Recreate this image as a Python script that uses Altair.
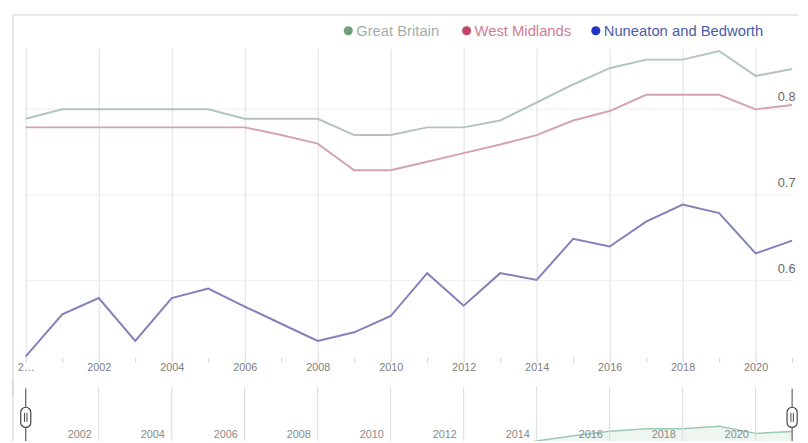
import altair as alt
import pandas as pd

# ---------------- data ----------------
years = list(range(2000, 2022))
great_britain = [0.788, 0.799, 0.799, 0.799, 0.799, 0.799, 0.788, 0.788, 0.788, 0.769, 0.769,
                 0.778, 0.778, 0.786, 0.807, 0.828, 0.847, 0.857, 0.857, 0.867, 0.838, 0.846]
west_midlands = [0.778, 0.778, 0.778, 0.778, 0.778, 0.778, 0.778, 0.769, 0.759, 0.728, 0.728,
                 0.738, 0.748, 0.758, 0.769, 0.786, 0.797, 0.816, 0.816, 0.816, 0.799, 0.804]
nuneaton = [0.511, 0.560, 0.579, 0.529, 0.579, 0.590, 0.569, 0.549, 0.529, 0.539, 0.558,
            0.608, 0.570, 0.608, 0.600, 0.648, 0.639, 0.668, 0.688, 0.678, 0.631, 0.646]
series_names = ["Great Britain", "West Midlands", "Nuneaton and Bedworth"]
y_label_values = [0.6, 0.7, 0.8]
nav_label_years = list(range(2002, 2021, 2))
nav_grid_years = list(range(2000, 2021, 2))
handle_years = [2000, 2021]

# ---------------- styles ----------------
line_colors = ["#b2c4bc", "#d5a3ae", "#8181bb"]
dot_colors = ["#6f9f75", "#c2466a", "#2233c4"]
text_colors = ["#a3afa7", "#d27b95", "#4b5baa"]
FONT = "Liberation Sans"
W, H = 777, 313
NAV_H = 55

rows = []
for name, vals in zip(series_names, [great_britain, west_midlands, nuneaton]):
    for yr, v in zip(years, vals):
        rows.append({"year": yr, "value": v, "series": name})
df = pd.DataFrame(rows)
gb_df = pd.DataFrame({"year": years, "value": great_britain})
one = pd.DataFrame({"k": [0]})

x_scale = alt.Scale(domain=[2000, 2021], nice=False, zero=False)

x_main = alt.X(
    "year:Q", scale=x_scale,
    axis=alt.Axis(
        values=years, tickSize=5, tickColor="#d0d0d0", labelPadding=0, domain=False,
        grid=True,
        gridColor={"condition": {"test": "datum.value % 2 == 0", "value": "#dedede"},
                   "value": "rgba(0,0,0,0)"},
        labelExpr="datum.value == 2000 ? '2…' : (datum.value % 2 == 0 ? toString(datum.value) : '')",
        labelColor="#808080", labelFontSize=11, labelFlush=False, labelOverlap=False,
        title=None))

y_main = alt.Y(
    "value:Q", scale=alt.Scale(domain=[0.51, 0.87], nice=False, zero=False),
    axis=alt.Axis(
        orient="right", values=y_label_values, format=".1f", ticks=False, tickSize=0,
        domain=False, labelAlign="right", labelPadding=3, labelBaseline="bottom",
        labelOffset=-5, gridColor="#efefef", labelColor="#6a6a6a", labelFontSize=13,
        title=None))

lines = alt.Chart(df).mark_line(strokeWidth=2).encode(
    x=x_main, y=y_main,
    color=alt.Color("series:N", scale=alt.Scale(domain=series_names, range=line_colors),
                    legend=None),
    order=alt.Order("year:Q"))

legend_layers = []
dot_x = [327, 447, 578]
for i, name in enumerate(series_names):
    ldf = pd.DataFrame({"series": [name]})
    legend_layers.append(
        alt.Chart(ldf).mark_circle(size=85, opacity=1, color=dot_colors[i]).encode(
            x=alt.value(dot_x[i]), y=alt.value(-18)))
    legend_layers.append(
        alt.Chart(ldf).mark_text(align="left", baseline="middle", fontSize=15,
                                 color=text_colors[i], font=FONT).encode(
            x=alt.value(dot_x[i] + 8), y=alt.value(-18), text="series:N"))

border_left = alt.Chart(one).mark_rule(color="#cfcfcf", strokeWidth=1).encode(
    x=alt.value(-13), y=alt.value(-34), y2=alt.value(H + 40))
border_top = alt.Chart(one).mark_rule(color="#cfcfcf", strokeWidth=1).encode(
    x=alt.value(-13), x2=alt.value(W + 6), y=alt.value(-34))

main = alt.layer(border_left, border_top, lines, *legend_layers).properties(
    width=W, height=H)

# ---------------- navigator (no axis; grid and labels drawn from year lists) ----------------
x_nav = alt.X("year:Q", scale=x_scale, axis=None)
y_nav = alt.Y("value:Q", scale=alt.Scale(domain=[0.807, 1.027], nice=False, zero=False),
              axis=None)

nav_area = alt.Chart(gb_df).mark_area(color="#eef6f1", clip=True).encode(
    x=x_nav, y=y_nav)
nav_line = alt.Chart(gb_df).mark_line(color="#9cc9b3", strokeWidth=1.5, clip=True).encode(
    x=x_nav, y=y_nav)
nav_grid = alt.Chart(pd.DataFrame({"gyear": nav_grid_years})).mark_rule(
    color="#dadada", strokeWidth=1, opacity=1).encode(
    x=alt.X("gyear:Q", scale=x_scale, axis=None), y=alt.value(0), y2=alt.value(NAV_H))
nav_labels = alt.Chart(pd.DataFrame({"lyear": nav_label_years})).mark_text(
    align="right", baseline="middle", dx=-7, fontSize=11, color="#8a8a8a", font=FONT).encode(
    x=alt.X("lyear:Q", scale=x_scale, axis=None), y=alt.value(NAV_H - 6),
    text=alt.Text("lyear:Q", format="d"))

hdf = pd.DataFrame({"year": handle_years})
h_rule = alt.Chart(hdf).mark_rule(color="#444444", strokeWidth=1).encode(
    x=x_nav, y=alt.value(2), y2=alt.value(NAV_H))
h_body = alt.Chart(hdf).mark_point(
    shape="M-0.5,-0.5 A0.5,0.5 0 0 1 0.5,-0.5 L0.5,0.5 A0.5,0.5 0 0 1 -0.5,0.5 Z",
    size=420, filled=False, fill="white", stroke="#444444", strokeWidth=1.2,
    opacity=1).encode(x=x_nav, y=alt.value(31))
h_grip = alt.Chart(hdf).mark_point(
    shape="M-0.12,-0.45 L-0.12,0.45 M0.12,-0.45 L0.12,0.45",
    size=420, filled=False, stroke="#444444", strokeWidth=1, opacity=1).encode(
    x=x_nav, y=alt.value(31))

nav_border = alt.Chart(one).mark_rule(color="#cfcfcf", strokeWidth=1).encode(
    x=alt.value(-13), y=alt.value(-5), y2=alt.value(NAV_H))

nav = alt.layer(nav_area, nav_line, nav_border, nav_grid, nav_labels,
                h_rule, h_body, h_grip).properties(width=W, height=NAV_H)

chart = alt.vconcat(main, nav, spacing=30, bounds="flush").properties(
    padding={"left": 4, "top": 3, "right": 0, "bottom": 0},
    background="white",
).configure_view(stroke=None).configure_axis(labelFont=FONT).configure_text(font=FONT)

chart.save("out.html", embed_options={"renderer": "svg", "actions": False})
